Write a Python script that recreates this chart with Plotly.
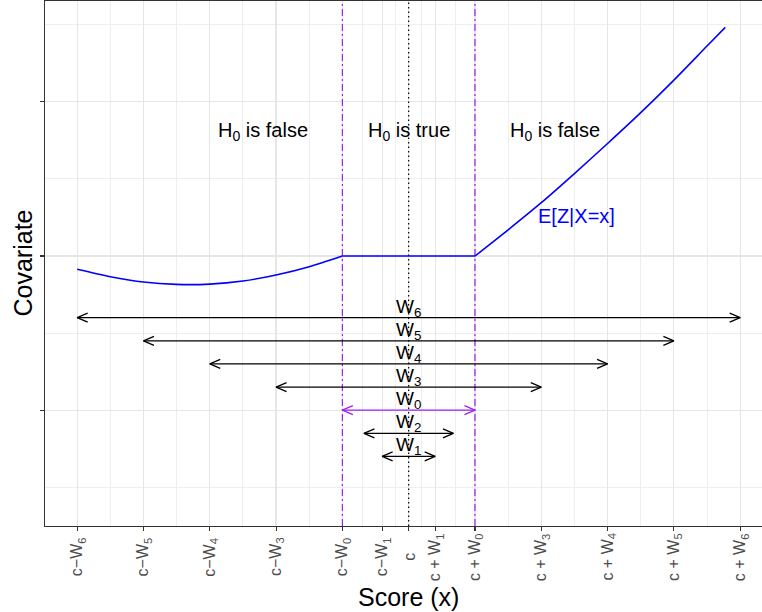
import plotly.graph_objects as go

# ---- data (c = 0, scale units) ----
left_x = [-10, -9, -8, -7, -6, -5, -4, -3, -2]
left_y = [-0.086, -0.134, -0.169, -0.184, -0.182, -0.162, -0.123, -0.069, 0.0]
flat_x = [-2, 2]
flat_y = [0.0, 0.0]
right_x = [2, 3, 4, 5, 6, 7, 8, 9, 9.55]
right_y = [0.0, 0.17, 0.346, 0.535, 0.73, 0.93, 1.141, 1.362, 1.483]

c = 0.0
w_names = ["W<sub>6</sub>", "W<sub>5</sub>", "W<sub>4</sub>", "W<sub>3</sub>",
           "W<sub>0</sub>", "W<sub>2</sub>", "W<sub>1</sub>"]
w_values = [10, 8, 6, 4, 2, 1.35, 0.8]
w_levels = [-0.40, -0.55, -0.70, -0.85, -1.00, -1.15, -1.30]
w_colors = ["black", "black", "black", "black", "#A020F0", "black", "black"]

tick_vals = [-10, -8, -6, -4, -2, -0.8, 0, 0.8, 2, 4, 6, 8, 10]
tick_text = ["c\u2212W<sub>6</sub>", "c\u2212W<sub>5</sub>", "c\u2212W<sub>4</sub>",
             "c\u2212W<sub>3</sub>", "c\u2212W<sub>0</sub>", "c\u2212W<sub>1</sub>", "c",
             "c + W<sub>1</sub>", "c + W<sub>0</sub>", "c + W<sub>3</sub>",
             "c + W<sub>4</sub>", "c + W<sub>5</sub>", "c + W<sub>6</sub>"]
y_major = [-1, 0, 1]

region_labels = ["H<sub>0</sub> is false", "H<sub>0</sub> is true", "H<sub>0</sub> is false"]
region_x = [-4.4, 0.0, 4.4]
region_y = 0.81

curve_label = "E[Z|X=x]"
curve_label_xy = (5.05, 0.26)

# ---- geometry / style ----
W, H = 762, 612
ml, mr, mt, mb = 45, 0, 1, 86
x_range = [-10.97, 10.658]
y_range = [-1.751, 1.654]
px_per_x = (W - ml - mr) / (x_range[1] - x_range[0])
px_per_y = (H - mt - mb) / (y_range[1] - y_range[0])
FONT = "Liberation Sans, Arial, Helvetica, sans-serif"

fig = go.Figure()

# vertical reference lines
w0 = w_values[w_names.index("W<sub>0</sub>")]
for xv in (c - w0, c + w0):
    fig.add_trace(go.Scatter(x=[xv, xv], y=y_range, mode="lines",
                             line=dict(color="#A020F0", width=1.2, dash="7px,3px,2px,3px"),
                             hoverinfo="skip", showlegend=False))
fig.add_trace(go.Scatter(x=[c, c], y=y_range, mode="lines",
                         line=dict(color="black", width=1.2, dash="1.5px,3px"),
                         hoverinfo="skip", showlegend=False))

# conditional expectation curve (three pieces)
for xs, ys, shp in ((left_x, left_y, "spline"), (flat_x, flat_y, "linear"),
                    (right_x, right_y, "spline")):
    fig.add_trace(go.Scatter(x=xs, y=ys, mode="lines",
                             line=dict(color="#0000FF", width=1.6, shape=shp, smoothing=0.8),
                             hoverinfo="skip", showlegend=False))

# double-headed arrows
hx = 10.5 / px_per_x
hy = 4.5 / px_per_y
for name, wv, lv, col in zip(w_names, w_values, w_levels, w_colors):
    L, R = c - wv, c + wv
    xs = [L, R, None, L + hx, L, L + hx, None, R - hx, R, R - hx]
    ys = [lv, lv, None, lv + hy, lv, lv - hy, None, lv + hy, lv, lv - hy]
    fig.add_trace(go.Scatter(x=xs, y=ys, mode="lines",
                             line=dict(color=col, width=1.3),
                             hoverinfo="skip", showlegend=False))
    fig.add_annotation(x=c, y=lv, xref="x", yref="y", text=name, showarrow=False,
                       yanchor="bottom", xanchor="center", yshift=-4,
                       font=dict(family=FONT, size=19, color="black"))

for t, xv in zip(region_labels, region_x):
    fig.add_annotation(x=xv, y=region_y, xref="x", yref="y", text=t, showarrow=False,
                       font=dict(family=FONT, size=20, color="black"))

fig.add_annotation(x=curve_label_xy[0], y=curve_label_xy[1], xref="x", yref="y",
                   text=curve_label, showarrow=False,
                   font=dict(family=FONT, size=20, color="#0000FF"))

# x tick labels (centred, rotated, like the reference)
lab_y = -31 / (H - mt - mb)
for tv, tt in zip(tick_vals, tick_text):
    fig.add_annotation(x=tv, y=lab_y, xref="x", yref="paper", text=tt, showarrow=False,
                       textangle=-90, xanchor="center", yanchor="middle",
                       font=dict(family=FONT, size=16, color="#4D4D4D"))

# axis titles
fig.add_annotation(x=c, y=-71 / (H - mt - mb), xref="x", yref="paper", text="Score (x)",
                   showarrow=False, xanchor="center", yanchor="middle",
                   font=dict(family=FONT, size=25, color="black"))
fig.add_annotation(x=-23 / (W - ml - mr), y=0.5, xref="paper", yref="paper", text="Covariate",
                   showarrow=False, textangle=-90, xanchor="center", yanchor="middle",
                   font=dict(family=FONT, size=25, color="black"))

x_minor = [(a + b) / 2 for a, b in zip(tick_vals[:-1], tick_vals[1:])]
y_minor = [v + 0.5 for v in [y_major[0] - 1] + y_major]

fig.update_layout(
    width=W, height=H,
    margin=dict(l=ml, r=mr, t=mt, b=mb, pad=0),
    plot_bgcolor="white", paper_bgcolor="white",
    showlegend=False,
    xaxis=dict(range=x_range, tickmode="array", tickvals=tick_vals, showticklabels=False,
               ticks="outside", ticklen=4, tickcolor="#333333", tickwidth=1.1,
               showgrid=True, gridcolor="#E6E6E6", gridwidth=1.2,
               minor=dict(tickmode="array", tickvals=x_minor, showgrid=True,
                          gridcolor="#EEEEEE", gridwidth=1, ticks=""),
               showline=True, linecolor="#333333", linewidth=1.2, mirror=True,
               zeroline=False, fixedrange=True),
    yaxis=dict(range=y_range, tickmode="array", tickvals=y_major, showticklabels=False,
               ticks="outside", ticklen=4, tickcolor="#333333", tickwidth=1.1,
               showgrid=True, gridcolor="#E6E6E6", gridwidth=1.2,
               minor=dict(tickmode="array", tickvals=y_minor, showgrid=True,
                          gridcolor="#EEEEEE", gridwidth=1, ticks=""),
               showline=True, linecolor="#333333", linewidth=1.2, mirror=False,
               zeroline=False, fixedrange=True),
)

fig.write_html("out.html", config={"staticPlot": True},
               post_script="document.body.style.margin='0';document.body.style.overflow='hidden';")
